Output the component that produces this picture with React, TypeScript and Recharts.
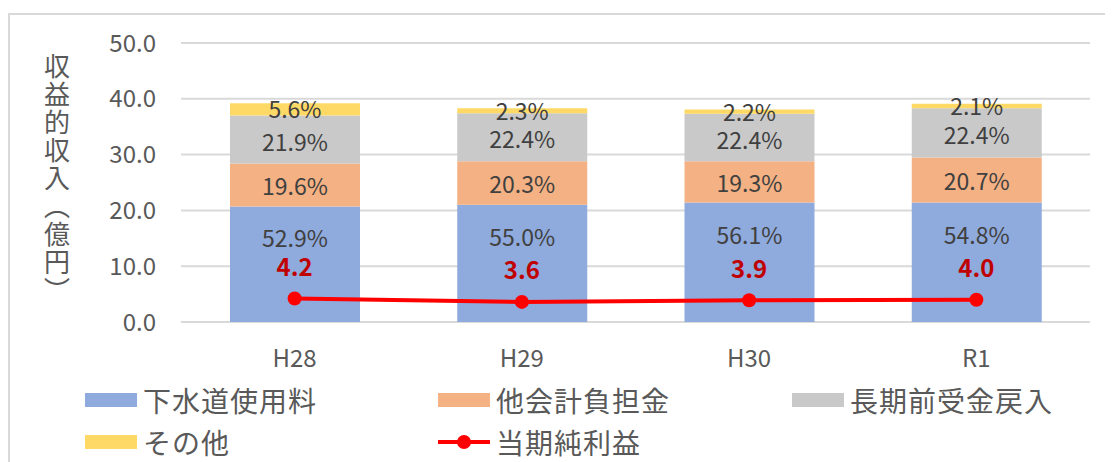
import React from 'react';
import { ComposedChart, Bar, Line, XAxis, YAxis, CartesianGrid, Legend, LabelList } from 'recharts';

const categories = ['H28', 'H29', 'H30', 'R1'];
const sewerFee = [20.7, 21.0, 21.4, 21.4];
const otherAccount = [7.7, 7.8, 7.4, 8.1];
const longTermReturn = [8.6, 8.6, 8.5, 8.8];
const others = [2.2, 0.9, 0.8, 0.8];
const netProfit = [4.2, 3.6, 3.9, 4.0];

const sewerPct = ['52.9%', '55.0%', '56.1%', '54.8%'];
const otherAccountPct = ['19.6%', '20.3%', '19.3%', '20.7%'];
const longTermPct = ['21.9%', '22.4%', '22.4%', '22.4%'];
const othersPct = ['5.6%', '2.3%', '2.2%', '2.1%'];

const yTicks = [0, 10, 20, 30, 40, 50];

const seriesNames = ['下水道使用料', '他会計負担金', '長期前受金戻入', 'その他', '当期純利益'];
const yTitle = '収益的収入（億円）';

const COLORS = {
  sewer: '#8FAADC',
  other: '#F4B183',
  longTerm: '#C9C9C9',
  misc: '#FFD966',
  profit: '#FF0000',
};

const FONT = '"Noto Sans CJK JP", "Noto Sans", sans-serif';

const data = categories.map((c, i) => ({
  name: c,
  sewer: sewerFee[i],
  other: otherAccount[i],
  longTerm: longTermReturn[i],
  misc: others[i],
  profit: netProfit[i],
}));

const makeSegLabel = (labels: string[], offsetFromTop?: number, shift = 0) => (props: any) => {
  const { x, y, width, height, index } = props;
  const cx = Number(x) + Number(width) / 2;
  const cy = offsetFromTop !== undefined ? Number(y) + offsetFromTop : Number(y) + Number(height) / 2 + shift;
  return (
    <text x={cx} y={cy} textAnchor="middle" dominantBaseline="central" fill="#404040"
      fontSize={23} fontFamily={FONT}>
      {labels[index]}
    </text>
  );
};

const profitLabel = (props: any) => {
  const { x, y, index } = props;
  return (
    <text x={Number(x)} y={Number(y) - 33} textAnchor="middle" dominantBaseline="central" fill="#C00000"
      fontSize={24} fontWeight="bold" fontFamily={FONT}>
      {netProfit[index].toFixed(1)}
    </text>
  );
};

const legendLayout = [
  { x: 77, row: 0, color: COLORS.sewer, type: 'rect' },
  { x: 430, row: 0, color: COLORS.other, type: 'rect' },
  { x: 784, row: 0, color: COLORS.longTerm, type: 'rect' },
  { x: 77, row: 1, color: COLORS.misc, type: 'rect' },
  { x: 430, row: 1, color: COLORS.profit, type: 'line' },
];
const rowY = [48, 90];

const renderLegend = () => (
  <div style={{ position: 'relative', width: 1105, height: 110, fontFamily: FONT }}>
    {legendLayout.map((it, i) => (
      <div key={i} style={{ position: 'absolute', left: it.x, top: rowY[it.row] - 20, height: 40, display: 'flex', alignItems: 'center' }}>
        {it.type === 'rect' ? (
          <div style={{ width: 52, height: 14, background: it.color }} />
        ) : (
          <svg width={52} height={16}>
            <line x1={0} y1={8} x2={52} y2={8} stroke={it.color} strokeWidth={4} />
            <circle cx={26} cy={8} r={7} fill={it.color} />
          </svg>
        )}
        <span style={{ marginLeft: 6, fontSize: 28, color: '#595959', whiteSpace: 'nowrap', lineHeight: '40px', letterSpacing: 1 }}>
          {seriesNames[i]}
        </span>
      </div>
    ))}
  </div>
);

const yTitleContent = (props: any) => {
  const vb = props.viewBox || { x: 0, y: 30, width: 173, height: 279 };
  return (
    <text x={vb.x + 49} y={vb.y + vb.height / 2 - 3.5} textAnchor="middle" fill="#595959"
      fontSize={26} fontFamily={FONT} letterSpacing={2}
      style={{ writingMode: 'vertical-rl' as any }}>
      {yTitle}
    </text>
  );
};

export default function App() {
  return (
    <div style={{ position: 'relative', width: 1105, height: 449, marginTop: 5, borderTop: '2px solid #D9D9D9', borderLeft: '2px solid #D9D9D9', boxSizing: 'border-box' }}>
      <div style={{ position: 'absolute', left: -2, top: -2 }}>
        <ComposedChart width={1105} height={449} data={data}
          margin={{ top: 30, right: 23, bottom: 0, left: 0 }}>
          <CartesianGrid vertical={false} stroke="#D9D9D9" strokeWidth={2} />
          <XAxis dataKey="name" axisLine={false} tickLine={false} height={30} tickMargin={22}
            tick={{ fill: '#595959', fontSize: 24, fontFamily: FONT }} interval={0} />
          <YAxis domain={[0, 50]} ticks={yTicks} width={173} axisLine={false} tickLine={false}
            tickMargin={19} tickFormatter={(v: number) => v.toFixed(1)}
            tick={{ fill: '#595959', fontSize: 24, fontFamily: FONT }}
            label={{ content: yTitleContent }} />
          <Legend content={renderLegend} verticalAlign="bottom" align="left" height={110}
            wrapperStyle={{ left: 0, width: 1105 }} />
          <Bar dataKey="sewer" stackId="a" fill={COLORS.sewer} barSize={130} isAnimationActive={false}>
            <LabelList dataKey="sewer" content={makeSegLabel(sewerPct, 31)} />
          </Bar>
          <Bar dataKey="other" stackId="a" fill={COLORS.other} barSize={130} isAnimationActive={false}>
            <LabelList dataKey="other" content={makeSegLabel(otherAccountPct)} />
          </Bar>
          <Bar dataKey="longTerm" stackId="a" fill={COLORS.longTerm} barSize={130} isAnimationActive={false}>
            <LabelList dataKey="longTerm" content={makeSegLabel(longTermPct, undefined, 1)} />
          </Bar>
          <Bar dataKey="misc" stackId="a" fill={COLORS.misc} barSize={130} isAnimationActive={false}>
            <LabelList dataKey="misc" content={makeSegLabel(othersPct, undefined, -1)} />
          </Bar>
          <Line dataKey="profit" stroke={COLORS.profit} strokeWidth={4}
            dot={{ r: 7, fill: COLORS.profit, stroke: COLORS.profit, strokeWidth: 0 }}
            activeDot={false} isAnimationActive={false}>
            <LabelList dataKey="profit" content={profitLabel} />
          </Line>
        </ComposedChart>
      </div>
    </div>
  );
}
